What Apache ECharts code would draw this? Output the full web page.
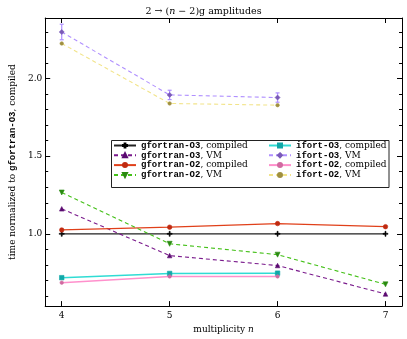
<!DOCTYPE html>
<html><head><meta charset="utf-8">
<script src="https://cdn.jsdelivr.net/npm/echarts@6/dist/echarts.min.js"></script>
<style>html,body{margin:0;padding:0;background:#fff}#c{width:407px;height:339px}</style>
</head><body><div id="c"></div>
<script>
const nAll = [4, 5, 6, 7];
const nIfort = [4, 5, 6];
const gfO3Compiled = [1.0, 1.0, 1.0, 1.0];
const gfO3VM = [1.161, 0.86, 0.796, 0.613];
const gfO2Compiled = [1.025, 1.043, 1.066, 1.046];
const gfO2VM = [1.266, 0.936, 0.866, 0.675];
const ifO3Compiled = [0.718, 0.745, 0.747];
const ifO3VM = [2.299, 1.894, 1.877];
const ifO3VMErr = [0.05, 0.03, 0.03];
const ifO2Compiled = [0.686, 0.726, 0.726];
const ifO2VM = [2.225, 1.839, 1.828];
const xTicks = [4, 5, 6, 7];
const yMajorTicks = [1.0, 1.5, 2.0];
const yMinorTicks = [0.6, 0.7, 0.8, 0.9, 1.1, 1.2, 1.3, 1.4, 1.6, 1.7, 1.8, 1.9, 2.1, 2.2, 2.3];
const names = ['gfortran-O3, compiled', 'gfortran-O3, VM', 'gfortran-O2, compiled', 'gfortran-O2, VM',
               'ifort-O3, compiled', 'ifort-O3, VM', 'ifort-O2, compiled', 'ifort-O2, VM'];

const serif = '"DejaVu Serif", serif';
const mono = '"Liberation Mono", monospace';
const pair = (xs, ys) => xs.map((x, i) => [x, ys[i]]);
const plusPath = 'path://M4,0h2v4h4v2h-4v4h-2v-4h-4v-2h4z';

function lineSeries(name, xs, ys, color, mColor, symbol, dashed, width, size) {
  return {
    name, type: 'line', data: pair(xs, ys), symbol, symbolSize: size || 5,
    lineStyle: { color, width: width || 1, type: dashed ? [4, 3] : 'solid' },
    itemStyle: { color: mColor, borderColor: mColor, borderWidth: 0.6 },
    emphasis: { disabled: true }, z: 2
  };
}

const chart = echarts.init(document.getElementById('c'));
const rich = {
  m: { fontFamily: mono, fontWeight: 'bold', fontSize: 9, color: '#000', lineHeight: 10 },
  s: { fontFamily: serif, fontSize: 9, color: '#000', lineHeight: 10 }
};
const fmt = name => { const i = name.indexOf(', '); return '{m|' + name.slice(0, i) + '}{s|' + name.slice(i) + '}'; };
const axisCommon = { type: 'value', min: 3.847, max: 7.153, gridIndex: 0 };
const yCommon = { type: 'value', min: 0.535, max: 2.389, splitLine: { show: false } };

chart.setOption({
  animation: false,
  title: {
    text: '{a|2 → (}{i|n}{a| − 2)g amplitudes}', left: 'center', top: 2,
    textStyle: { fontWeight: 'normal', rich: { a: { fontFamily: serif, fontSize: 9.5, color: '#000', fontWeight: 'normal' }, i: { fontFamily: serif, fontStyle: 'italic', fontSize: 9.5, color: '#000', fontWeight: 'normal' } } }
  },
  grid: { left: 34, right: 5, top: 18, bottom: 30 },
  xAxis: [
    Object.assign({}, axisCommon, {
      position: 'bottom',
      axisLine: { lineStyle: { color: '#000', width: 1 } },
      axisTick: { inside: true, length: 5, customValues: xTicks, lineStyle: { color: '#000' } },
      axisLabel: { customValues: xTicks, fontFamily: serif, fontSize: 9, color: '#000', margin: 5 },
      splitLine: { show: false },
      name: '{a|multiplicity }{i|n}', nameLocation: 'middle', nameGap: 15,
      nameTextStyle: { rich: { a: { fontFamily: serif, fontSize: 9, color: '#000' }, i: { fontFamily: serif, fontStyle: 'italic', fontSize: 9, color: '#000' } } }
    }),
    Object.assign({}, axisCommon, {
      position: 'top',
      axisLine: { lineStyle: { color: '#000', width: 1 } },
      axisTick: { inside: true, length: 5, customValues: xTicks, lineStyle: { color: '#000' } },
      axisLabel: { show: false }, splitLine: { show: false }
    })
  ],
  yAxis: [
    Object.assign({}, yCommon, {
      position: 'left',
      axisLine: { show: true, lineStyle: { color: '#000', width: 1 } },
      axisTick: { inside: true, length: 5, customValues: yMajorTicks, lineStyle: { color: '#000' } },
      axisLabel: { customValues: yMajorTicks, formatter: v => v.toFixed(1), fontFamily: serif, fontSize: 9, color: '#000', margin: 3 },
      name: '{s|time normalized to }{m|gfortran-O3}{s|, compiled}', nameLocation: 'middle', nameGap: 27,
      nameTextStyle: { rich: rich }
    }),
    Object.assign({}, yCommon, {
      position: 'left', axisLine: { show: false },
      axisTick: { inside: true, length: 3, customValues: yMinorTicks, lineStyle: { color: '#000' } },
      axisLabel: { show: false }
    }),
    Object.assign({}, yCommon, {
      position: 'right',
      axisLine: { show: true, lineStyle: { color: '#000', width: 1 } },
      axisTick: { inside: true, length: 5, customValues: yMajorTicks, lineStyle: { color: '#000' } },
      axisLabel: { show: false }
    }),
    Object.assign({}, yCommon, {
      position: 'right', axisLine: { show: false },
      axisTick: { inside: true, length: 3, customValues: yMinorTicks, lineStyle: { color: '#000' } },
      axisLabel: { show: false }
    })
  ],
  legend: [
    { data: names.slice(0, 4), orient: 'vertical', left: 113, top: 141, itemWidth: 22, itemHeight: 5, itemGap: 0.8,
      selectedMode: false, formatter: fmt, textStyle: { rich: rich }, padding: 0, z: 5 },
    { data: names.slice(4), orient: 'vertical', left: 268, top: 141, itemWidth: 22, itemHeight: 5, itemGap: 0.8,
      selectedMode: false, formatter: fmt, textStyle: { rich: rich }, padding: 0, z: 5 }
  ],
  graphic: [{
    type: 'rect', shape: { x: 111.5, y: 140.5, width: 277.5, height: 47 },
    style: { fill: '#fff', stroke: '#222', lineWidth: 1 }, z: 3
  }],
  series: [
    lineSeries(names[0], nAll, gfO3Compiled, '#222', '#000', plusPath, false, 1.2, 5),
    lineSeries(names[1], nAll, gfO3VM, '#7a1a8c', '#5a0a70', 'triangle', true, 1.1, 4.5),
    lineSeries(names[2], nAll, gfO2Compiled, '#e0401a', '#c02a10', 'circle', false, 1.2, 4.5),
    lineSeries(names[3], nAll, gfO2VM, '#44c018', '#2a8a10', 'path://M0,0L10,0L5,9z', true, 1.1, 5),
    lineSeries(names[4], nIfort, ifO3Compiled, '#30dcd4', '#10a8a8', 'rect', false, 1.5, 4.5),
    lineSeries(names[5], nIfort, ifO3VM, '#b090ff', '#7a5ab8', 'diamond', true, 1.1, 5),
    lineSeries(names[6], nIfort, ifO2Compiled, '#ff90cc', '#d06aa0', 'circle', false, 1.5, 3.5),
    lineSeries(names[7], nIfort, ifO2VM, '#f2e48a', '#a09040', 'circle', true, 1.1, 3.5),
    {
      type: 'custom', name: 'err', z: 1,
      data: nIfort.map((x, i) => [x, ifO3VM[i], ifO3VMErr[i]]),
      renderItem: (params, api) => {
        const x = api.value(0), y = api.value(1), e = api.value(2);
        const p1 = api.coord([x, y + e]), p2 = api.coord([x, y - e]);
        const st = { stroke: '#b090ff', lineWidth: 1.2 };
        return { type: 'group', children: [
          { type: 'line', shape: { x1: p1[0], y1: p1[1], x2: p2[0], y2: p2[1] }, style: st },
          { type: 'line', shape: { x1: p1[0] - 2, y1: p1[1], x2: p1[0] + 2, y2: p1[1] }, style: st },
          { type: 'line', shape: { x1: p2[0] - 2, y1: p2[1], x2: p2[0] + 2, y2: p2[1] }, style: st }
        ] };
      }
    }
  ]
});
</script></body></html>
